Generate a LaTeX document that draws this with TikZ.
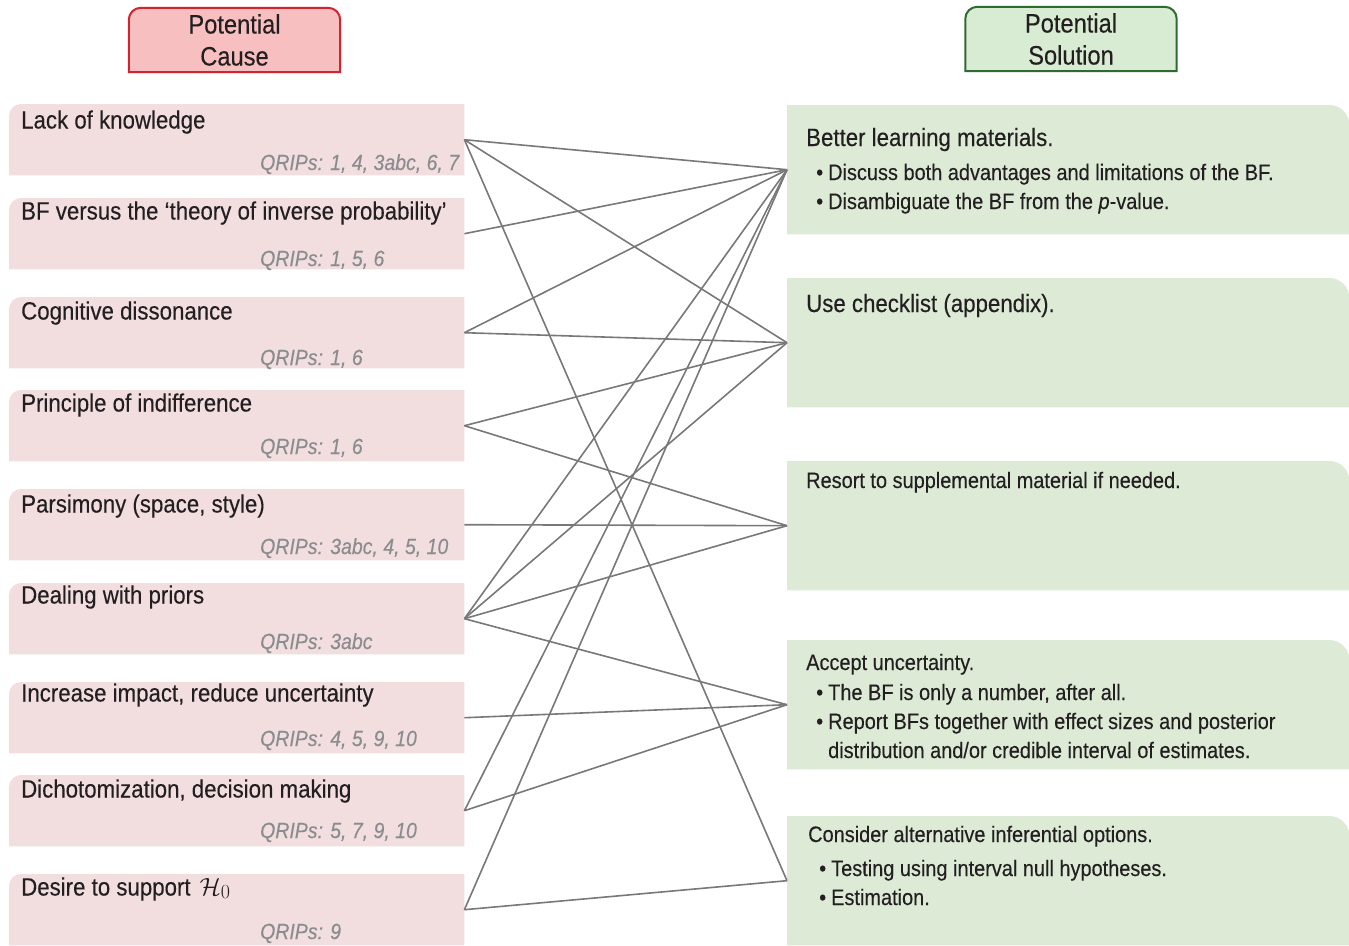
\documentclass[tikz,border=0pt]{standalone}
\usepackage[no-math]{fontspec}
\setmainfont{Liberation Sans}[FakeStretch=0.89,FakeBold=0.25]
\newfontfamily\lmrfont{Latin Modern Roman}
\definecolor{lfill}{HTML}{F2DEDF}
\definecolor{rfill}{HTML}{DCEAD6}
\definecolor{hcfill}{HTML}{F8BFC0}
\definecolor{hcline}{HTML}{D2232E}
\definecolor{hsfill}{HTML}{D8EBD3}
\definecolor{hsline}{HTML}{2F6B2F}
\definecolor{txt}{HTML}{231F20}
\definecolor{qgray}{HTML}{8A8C8E}
\definecolor{linegray}{HTML}{787878}
\tikzset{
  lshape/.style={rectangle, minimum width=455pt, minimum height=71pt, inner sep=0pt, anchor=north west},
  rshape/.style={rectangle, minimum width=562pt, minimum height=129pt, inner sep=0pt, anchor=north west},
  hshape/.style={rectangle, minimum width=211pt, minimum height=64pt, inner sep=0pt},
  htext/.style={inner sep=0pt, align=center, text=txt, font=\fontsize{26.6pt}{32pt}\selectfont},
  ltitle/.style={anchor=base west, inner sep=0pt, text=txt, font=\fontsize{25pt}{29pt}\selectfont},
  qrips/.style={anchor=base west, inner sep=0pt, text=qgray, font=\fontsize{21.9pt}{25pt}\selectfont\itshape},
  rhead/.style={anchor=base west, inner sep=0pt, text=txt, font=\fontsize{25pt}{29pt}\selectfont},
  rheads/.style={anchor=base west, inner sep=0pt, text=txt, font=\fontsize{22.4pt}{29pt}\selectfont},
  link/.style={draw=linegray, line width=1.6pt},
}
\newcommand{\bul}{\makebox[12pt][l]{•}}
\begin{document}
\begin{tikzpicture}[x=1pt,y=-1pt]
\useasboundingbox (0,0) rectangle (1349,945);

% header boxes
\node[hshape] (HC) at (234.5,40) {};
\filldraw[fill=hcfill, draw=hcline, line width=2pt] (HC.south west) -- ([yshift=-12pt]HC.north west) arc[start angle=180,end angle=90,radius=12pt] -- ([xshift=-12pt]HC.north east) arc[start angle=90,end angle=0,radius=12pt] -- (HC.south east) -- cycle;
\node[htext] (HCt) at (HC.center) {Potential\\Cause};

\node[hshape] (HS) at (1071,39) {};
\filldraw[fill=hsfill, draw=hsline, line width=2pt] (HS.south west) -- ([yshift=-12pt]HS.north west) arc[start angle=180,end angle=90,radius=12pt] -- ([xshift=-12pt]HS.north east) arc[start angle=90,end angle=0,radius=12pt] -- (HS.south east) -- cycle;
\node[htext] (HSt) at (HS.center) {Potential\\Solution};

% left boxes
\foreach \i/\t in {1/104,2/198,3/297,4/390,5/489,6/583,7/682,8/775,9/874} {
  \node[lshape] (L\i) at (9,\t) {};
  \fill[lfill] (L\i.south west) -- ([yshift=-12pt]L\i.north west) arc[start angle=180,end angle=90,radius=12pt] -- (L\i.north east) -- (L\i.south east) -- cycle;
}
% right boxes
\foreach \i/\t in {1/105,2/278,3/461,4/640,5/816} {
  \node[rshape] (R\i) at (787,\t) {};
  \fill[rfill] (R\i.south west) -- (R\i.north west) -- ([xshift=-20pt]R\i.north east) arc[start angle=90,end angle=0,radius=20pt] -- (R\i.south east) -- cycle;
}

% left texts
\node[ltitle] (L1a) at (21,128.5) {Lack of knowledge};
\node[qrips]  (L1b) at (260,170) {QRIPs: 1, 4, 3abc, 6, 7};
\node[ltitle] (L2a) at (21,219.5) {BF versus the ‘theory of inverse probability’};
\node[qrips]  (L2b) at (260,266) {QRIPs: 1, 5, 6};
\node[ltitle] (L3a) at (21,319.5) {Cognitive dissonance};
\node[qrips]  (L3b) at (260,365) {QRIPs: 1, 6};
\node[ltitle] (L4a) at (21,411.5) {Principle of indifference};
\node[qrips]  (L4b) at (260,454) {QRIPs: 1, 6};
\node[ltitle] (L5a) at (21,512.5) {Parsimony (space, style)};
\node[qrips]  (L5b) at (260,554) {QRIPs: 3abc, 4, 5, 10};
\node[ltitle] (L6a) at (21,603.5) {Dealing with priors};
\node[qrips]  (L6b) at (260,649) {QRIPs: 3abc};
\node[ltitle] (L7a) at (21,701.5) {Increase impact, reduce uncertainty};
\node[qrips]  (L7b) at (260,746) {QRIPs: 4, 5, 9, 10};
\node[ltitle] (L8a) at (21,797.5) {Dichotomization, decision making};
\node[qrips]  (L8b) at (260,838) {QRIPs: 5, 7, 9, 10};
\node[ltitle] (L9a) at (21,895.5) {Desire to support\hspace{9pt}$\mathcal{H}$\raisebox{-3pt}{\lmrfont\fontsize{20pt}{20pt}\selectfont 0}};
\node[qrips]  (L9b) at (260,939) {QRIPs: 9};

% right texts
\node[rhead] (R1a) at (806,146) {Better learning materials.};
\node[rheads] (R1b) at (816,180) {\bul Discuss both advantages and limitations of the BF.};
\node[rheads] (R1c) at (816,209) {\bul Disambiguate the BF from the \textit{p}-value.};
\node[rhead] (R2a) at (806,312) {Use checklist (appendix).};
\node[rheads] (R3a) at (806,488) {Resort to supplemental material if needed.};
\node[rheads] (R4a) at (806,670) {Accept uncertainty.};
\node[rheads] (R4b) at (816,700) {\bul The BF is only a number, after all.};
\node[rheads] (R4c) at (816,729) {\bul Report BFs together with effect sizes and posterior};
\node[rheads] (R4d) at (828,758) {distribution and/or credible interval of estimates.};
\node[rheads] (R5a) at (808,842) {Consider alternative inferential options.};
\node[rheads] (R5b) at (819,876) {\bul Testing using interval null hypotheses.};
\node[rheads] (R5c) at (819,905) {\bul Estimation.};

% connectors
\draw[link] (L1.east) -- (R1.west);
\draw[link] (L1.east) -- (R2.west);
\draw[link] (L1.east) -- (R5.west);
\draw[link] (L2.east) -- (R1.west);
\draw[link] (L3.east) -- (R1.west);
\draw[link] (L3.east) -- (R2.west);
\draw[link] (L4.east) -- (R2.west);
\draw[link] (L4.east) -- (R3.west);
\draw[link] (L5.east) -- (R3.west);
\draw[link] (L6.east) -- (R1.west);
\draw[link] (L6.east) -- (R2.west);
\draw[link] (L6.east) -- (R3.west);
\draw[link] (L6.east) -- (R4.west);
\draw[link] (L7.east) -- (R4.west);
\draw[link] (L8.east) -- (R1.west);
\draw[link] (L8.east) -- (R4.west);
\draw[link] (L9.east) -- (R1.west);
\draw[link] (L9.east) -- (R5.west);
\end{tikzpicture}
\end{document}
